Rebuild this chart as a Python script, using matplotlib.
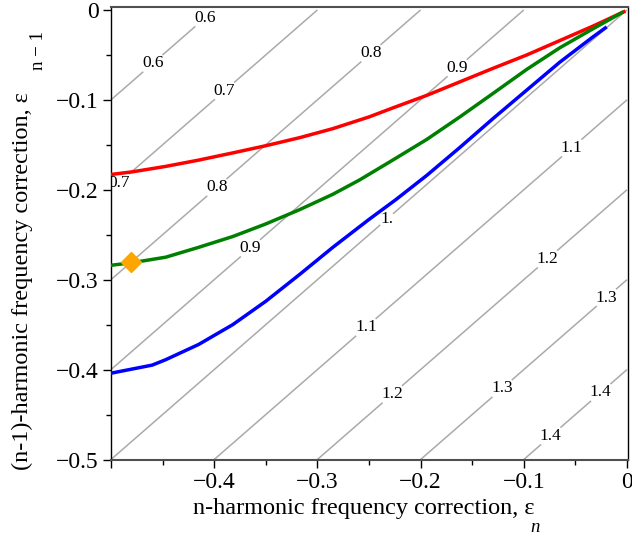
import matplotlib
matplotlib.use('Agg')
import matplotlib.pyplot as plt
import numpy as np
from matplotlib.ticker import MultipleLocator

plt.rcParams['font.family'] = ['Liberation Serif', 'DejaVu Serif']

# curves (eps_n, eps_n-1)
red_x = [-0.5, -0.479, -0.447, -0.415, -0.382, -0.350, -0.317, -0.285, -0.250,
         -0.227, -0.194, -0.162, -0.130, -0.097, -0.065, -0.033, -0.003]
red_y = [-0.183, -0.180, -0.174, -0.167, -0.159, -0.151, -0.142, -0.132, -0.119,
         -0.109, -0.095, -0.080, -0.065, -0.050, -0.034, -0.018, -0.002]

green_x = [-0.5, -0.479, -0.447, -0.415, -0.382, -0.350, -0.317, -0.285, -0.259,
           -0.227, -0.194, -0.162, -0.130, -0.097, -0.065, -0.033, -0.005]
green_y = [-0.284, -0.281, -0.275, -0.264, -0.252, -0.238, -0.222, -0.205, -0.189,
           -0.167, -0.144, -0.119, -0.093, -0.066, -0.042, -0.021, -0.003]

blue_x = [-0.5, -0.460, -0.447, -0.415, -0.382, -0.350, -0.317, -0.285, -0.250,
          -0.224, -0.194, -0.162, -0.130, -0.097, -0.065, -0.033, -0.021]
blue_y = [-0.404, -0.395, -0.389, -0.372, -0.350, -0.324, -0.294, -0.264, -0.233,
          -0.211, -0.184, -0.153, -0.121, -0.089, -0.058, -0.030, -0.020]

point_x = [-0.481]
point_y = [-0.280]

# contour levels of 1 + eps_n - eps_n-1
levels = [0.6, 0.7, 0.8, 0.9, 1.0, 1.1, 1.2, 1.3, 1.4]

# where the contour labels sit
label_pos = [(-0.409, -0.009), (-0.459, -0.060),
             (-0.390, -0.090), (-0.492, -0.192),
             (-0.249, -0.047), (-0.397, -0.198),
             (-0.165, -0.064), (-0.364, -0.266),
             (-0.232, -0.234),
             (-0.054, -0.153), (-0.253, -0.353),
             (-0.077, -0.277), (-0.227, -0.428),
             (-0.020, -0.320), (-0.121, -0.421),
             (-0.025, -0.426), (-0.073, -0.475)]

fig = plt.figure(figsize=(6.32, 5.37), dpi=100)
ax = fig.add_axes([0.1756, 0.1443, 0.9937 - 0.1756, 0.987 - 0.1443])

gx = np.linspace(-0.5, 0.0, 201)
gy = np.linspace(-0.5, 0.0, 201)
X, Y = np.meshgrid(gx, gy)
Z = 1 + X - Y
cs = ax.contour(X, Y, Z, levels=levels, colors='#aaaaaa', linewidths=1.1)


def fmt(v):
    if abs(v - 1.0) < 1e-9:
        return '1.'
    return '%.1f' % v


txts = ax.clabel(cs, inline=True, inline_spacing=2, fmt=fmt, fontsize=12.5,
                 manual=label_pos, colors='black')
for t in txts:
    t.set_rotation(0)

ax.plot(red_x, red_y, color='#ff0000', lw=2.5, zorder=3)
ax.plot(green_x, green_y, color='#008000', lw=2.5, zorder=3)
ax.plot(blue_x, blue_y, color='#0000ff', lw=2.5, zorder=3)
ax.plot(point_x, point_y, 'D', color='#ffa500', ms=10, zorder=4)

ax.set_xlim(-0.5, 0.001)
ax.set_ylim(-0.5, 0.0033)


def tick_fmt(v, p):
    if abs(v) < 1e-9:
        return '0'
    return '\u2212%.1f' % abs(v)


ax.xaxis.set_major_locator(MultipleLocator(0.1))
ax.xaxis.set_minor_locator(MultipleLocator(0.05))
ax.yaxis.set_major_locator(MultipleLocator(0.1))
ax.yaxis.set_minor_locator(MultipleLocator(0.05))
# no label at the left end of the x axis
ax.xaxis.set_major_formatter(lambda v, p: '' if v < -0.45 else tick_fmt(v, p))
ax.yaxis.set_major_formatter(tick_fmt)

ax.tick_params(which='major', direction='out', length=6, width=1, labelsize=17, pad=3)
ax.tick_params(which='minor', direction='out', length=3.5, width=1)

for side in ['top', 'bottom']:
    ax.spines[side].set_color('#505050')
    ax.spines[side].set_linewidth(1.5)
for side in ['left', 'right']:
    ax.spines[side].set_color('black')
    ax.spines[side].set_linewidth(1.0)

ax.set_xlabel('n-harmonic frequency correction, ε', fontsize=17.5)
ax.set_ylabel('(n-1)-harmonic frequency correction, ε', fontsize=17.5)
ax.xaxis.set_label_coords(0.489, -0.085)
ax.yaxis.set_label_coords(-0.151, 0.394)

# subscripts sit well below the epsilon, as in the original
fig.text(535 / 632, 1 - 532 / 537, 'n', fontsize=13.5, style='italic',
         ha='center', va='baseline')
fig.text(43 / 632, 1 - 51 / 537, 'n \u2212 1', fontsize=13.5, rotation=90,
         rotation_mode='anchor', ha='center', va='baseline')

fig.savefig('out.png', dpi=100)
